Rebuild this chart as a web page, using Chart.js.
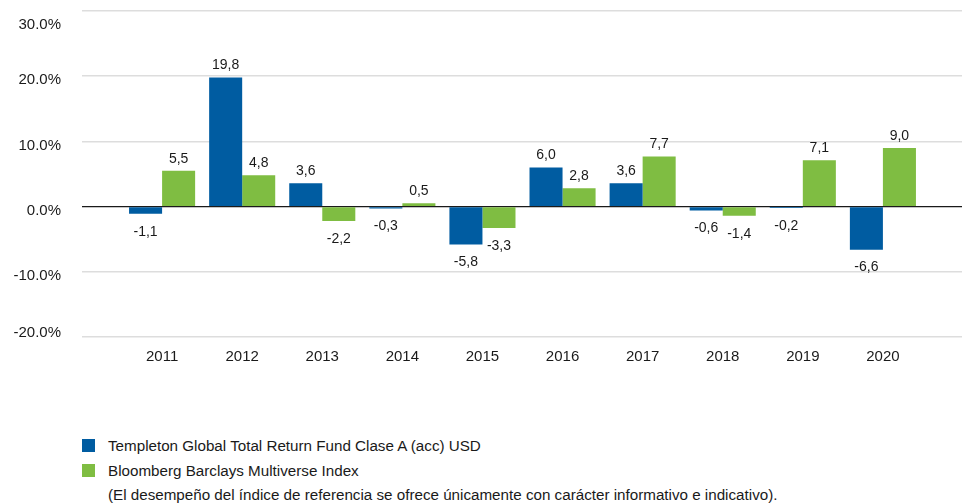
<!DOCTYPE html>
<html>
<head>
<meta charset="utf-8">
<script src="https://cdn.jsdelivr.net/npm/chart.js@4/dist/chart.umd.min.js"></script>
<style>
  html, body { margin:0; padding:0; background:#fff; }
  body { width:962px; height:503px; position:relative; overflow:hidden; font-family:"Liberation Sans", Arial, sans-serif; color:#1a1a1a; }
  #wrap { position:absolute; left:0; top:0; width:974px; height:382px; }
  .leg { position:absolute; left:82px; font-size:15.2px; line-height:20px; }
  .sw { display:inline-block; width:13px; height:13px; vertical-align:-1px; margin-right:13px; }
  #note { position:absolute; left:108px; top:485px; font-size:15.2px; line-height:20px; }
</style>
</head>
<body>
<div id="wrap"><canvas id="c" width="974" height="382"></canvas></div>
<div class="leg" style="top:436px"><span class="sw" style="background:#005CA1"></span>Templeton Global Total Return Fund Clase A (acc) USD</div>
<div class="leg" style="top:461px"><span class="sw" style="background:#7FBD42"></span>Bloomberg Barclays Multiverse Index</div>
<div id="note">(El desempeño del índice de referencia se ofrece únicamente con carácter informativo e indicativo).</div>
<script>
const years = ['2011','2012','2013','2014','2015','2016','2017','2018','2019','2020'];
const fundValues = [-1.1, 19.8, 3.6, -0.3, -5.8, 6.0, 3.6, -0.6, -0.2, -6.6];
const indexValues = [5.5, 4.8, -2.2, 0.5, -3.3, 2.8, 7.7, -1.4, 7.1, 9.0];
const yTicks = [-20, -10, 0, 10, 20, 30];
const seriesNames = ['Templeton Global Total Return Fund Clase A (acc) USD', 'Bloomberg Barclays Multiverse Index'];

// pad with an empty slot on each side (half slot margin like the reference)
const labels = [''].concat(years, ['']);
const pad = arr => [null].concat(arr, [null]);
const FONT = '"Liberation Sans", Arial, sans-serif';

const valueLabels = {
  id: 'valueLabels',
  afterDatasetsDraw(chart) {
    const ctx = chart.ctx;
    ctx.save();
    ctx.font = '14px ' + FONT;
    ctx.fillStyle = '#1a1a1a';
    ctx.textAlign = 'center';
    chart.data.datasets.forEach((ds, i) => {
      const meta = chart.getDatasetMeta(i);
      meta.data.forEach((bar, j) => {
        const v = ds.data[j];
        if (v === null || v === undefined) return;
        const txt = v.toFixed(1).replace('.', ',');
        if (v >= 0) {
          ctx.textBaseline = 'bottom';
          ctx.fillText(txt, bar.x, bar.y - 5);
        } else {
          ctx.textBaseline = 'top';
          ctx.fillText(txt, bar.x, bar.y + 11);
        }
      });
    });
    ctx.restore();
  }
};

// y tick labels: sit a little below their gridline, kept inside the plot band
const yLabels = {
  id: 'yLabels',
  afterDraw(chart) {
    const s = chart.scales.y, area = chart.chartArea, ctx = chart.ctx;
    ctx.save();
    ctx.font = '15px ' + FONT;
    ctx.fillStyle = '#1a1a1a';
    ctx.textAlign = 'right';
    ctx.textBaseline = 'middle';
    yTicks.forEach(v => {
      let y = s.getPixelForValue(v) + 4;
      y = Math.max(area.top + 14, Math.min(area.bottom - 4, y));
      ctx.fillText(v.toFixed(1) + '%', s.right - 21, y);
    });
    ctx.restore();
  }
};

new Chart(document.getElementById('c'), {
  type: 'bar',
  data: {
    labels: labels,
    datasets: [
      { label: seriesNames[0], data: pad(fundValues), backgroundColor: '#005CA1', categoryPercentage: 0.825, barPercentage: 1.0 },
      { label: seriesNames[1], data: pad(indexValues), backgroundColor: '#7FBD42', categoryPercentage: 0.825, barPercentage: 1.0 }
    ]
  },
  options: {
    responsive: false,
    animation: false,
    events: [],
    layout: { padding: { top: 11, right: 0, left: 0, bottom: 0 } },
    plugins: { legend: { display: false }, tooltip: { enabled: false } },
    scales: {
      x: {
        offset: false,
        grid: { display: false, drawTicks: false },
        border: { display: false },
        ticks: { color: '#1a1a1a', font: { size: 15, family: FONT }, padding: 11, maxRotation: 0, autoSkip: false },
        afterFit(scale) { scale.height = 45; }
      },
      y: {
        min: -20, max: 30,
        afterBuildTicks(scale) { scale.ticks = yTicks.map(v => ({ value: v })); },
        grid: {
          color: ctx => ctx.tick && ctx.tick.value === 0 ? '#1a1a1a' : '#dddddd',
          lineWidth: ctx => ctx.tick && ctx.tick.value === 0 ? 1.2 : 1.5,
          drawTicks: false
        },
        border: { display: false },
        ticks: {
          display: false,
          font: { size: 16, family: FONT }
        },
        afterFit(scale) { scale.width = 82; }
      }
    }
  },
  plugins: [valueLabels, yLabels]
});
</script>
</body>
</html>
